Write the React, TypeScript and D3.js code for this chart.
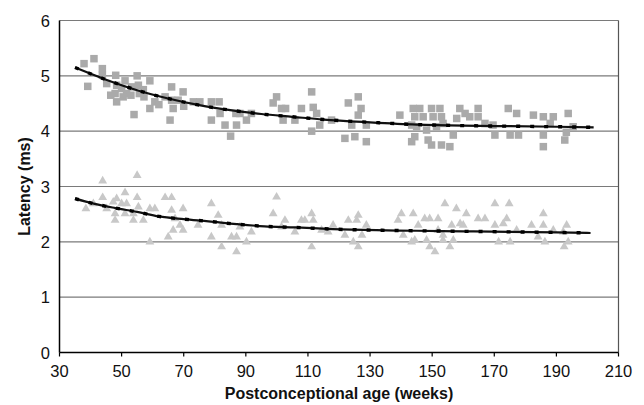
import { useEffect, useRef } from "react";
import * as d3 from "d3";

// upper series (squares)
const upperAge = [
  37.9, 41.1, 39.1, 43.8, 43.8, 45.2, 48.1, 48.4, 47.9, 48.4, 51.1, 50, 51.6, 53.2, 55, 55.4, 55.7, 54, 57.2, 59.1,
  59.1, 60.7, 64, 66.1, 66.1, 66.6, 65.6, 69.8, 68.2, 73.1, 75.2, 78.9, 81.4, 78.9, 81.7, 83.3, 85.1, 86.8, 87, 88.1,
  90.2, 91.8, 99.9, 98.8, 101.5, 102.8, 102, 105.8, 107.9, 111.2, 111.7, 112.8, 113.8, 111.2, 117.6, 123, 124.1, 126.2,
  127.1, 126.2, 121.9, 125.1, 128.8, 128.8, 139.6, 143.4, 143.4, 143.9, 146, 149.8, 152.5, 144.4, 147.1, 150.3, 153,
  145, 148.2, 151.4, 153.5, 144.4, 148.7, 149.8, 153, 155.7, 156.8, 158.9, 160.6, 157.9, 162.1, 164.8, 164.8, 167,
  169.6, 170.2, 174.5, 177.2, 175.1, 177.8, 182.6, 185.8, 185.8, 185.8, 188, 189, 192.7, 193.8, 195.4, 193.2,
  46.5, 50.5, 53, 57, 62, 70,
];
const upperLatency = [
  5.22, 5.31, 4.81, 5.13, 5.01, 4.86, 5.01, 4.83, 4.68, 4.53, 4.91, 4.77, 4.68, 4.8, 5.0, 4.83, 4.68, 4.3, 4.62, 4.91,
  4.41, 4.53, 4.62, 4.8, 4.56, 4.41, 4.2, 4.71, 4.56, 4.53, 4.53, 4.53, 4.53, 4.2, 4.32, 4.11, 3.91, 4.32, 4.11, 4.32,
  4.2, 4.32, 4.62, 4.51, 4.41, 4.41, 4.2, 4.2, 4.41, 4.71, 4.43, 4.32, 4.11, 4.0, 4.2, 4.51, 4.11, 4.62,
  4.41, 4.29, 3.87, 3.9, 3.81, 4.11, 4.29, 4.11, 3.81, 4.41, 4.41, 4.41, 4.41, 4.26, 4.26, 4.26, 4.26,
  4.08, 4.02, 4.08, 4.14, 3.9, 3.84, 3.75, 3.75, 3.72, 3.93, 4.41, 4.32, 4.23, 4.26, 4.41, 4.26, 4.14,
  4.11, 3.93, 4.41, 4.32, 3.93, 3.93, 4.29, 4.26, 3.93, 3.72, 4.14, 4.26, 3.84, 4.32, 4.08, 3.98,
  4.65, 4.62, 4.65, 4.75, 4.48, 4.45,
];

// lower series (triangles)
const lowerAge = [
  43.9, 55, 43.9, 51.1, 38.5, 40.9, 45.2, 47.3, 48.4, 50, 51.6, 47.9, 47.9, 51.1, 53.8, 53.8, 55, 55.4, 57, 59.1,
  60.7, 59.1, 64, 66.1, 66.1, 67.2, 69.8, 68.8, 65, 66.6, 69.8, 74.6, 78.9, 81.1, 82.2, 78.9, 82.2, 87, 85.4, 87,
  99.9, 98.8, 102.6, 107.9, 111.2, 109, 111.7, 105.8, 101.5, 91.8, 88.1, 90.2, 111.2, 114.4, 118.1, 116.5, 123, 126.2,
  125.7, 128.8, 121.9, 124.6, 127.4, 126.2, 139, 140.1, 140.7, 143.4, 154.1, 157.8, 170.2, 174.8, 143.9, 147.6, 149.2,
  151.9, 161, 164.8, 167, 174, 185.8, 145.5, 156.3, 159, 160, 170.2, 172.9, 182, 185.8, 193.3, 151.9, 177.2, 189,
  192.2, 144.4, 148.2, 153.5, 156.8, 171.4, 175.1, 184.1, 186.3, 193.8, 149.2, 155.7, 150.9, 192.5, 153.5,
];
const lowerLatency = [
  3.1, 3.2, 2.8, 2.89, 2.6, 2.69, 2.6, 2.72, 2.78, 2.69, 2.69, 2.51, 2.39, 2.51, 2.51, 2.39, 2.8, 2.63, 2.39, 2.6,
  2.6, 2.0, 2.8, 2.8, 2.57, 2.42, 2.6, 2.3, 2.09, 2.21, 2.21, 2.3, 2.69, 2.48, 2.3, 2.09, 1.91, 1.82, 2.09, 2.09,
  2.81, 2.51, 2.39, 2.39, 2.51, 2.39, 2.39, 2.18, 2.27, 2.18, 2.27, 2.0, 1.91, 2.21, 2.3, 2.18, 2.39, 2.48,
  2.39, 2.3, 2.12, 2.0, 2.12, 1.91, 2.39, 2.51, 2.12, 2.0, 2.69, 2.6, 2.69, 2.69, 2.51, 2.42, 2.42,
  2.42, 2.51, 2.42, 2.42, 2.42, 2.51, 2.3, 2.3, 2.33, 2.3, 2.3, 2.33, 2.3, 2.3, 2.3, 2.21, 2.21, 2.21,
  2.18, 2.03, 2.03, 2.12, 2.03, 2.0, 2.0, 2.09, 2.0, 2.0, 1.91, 1.91, 1.82, 1.91, 2.03,
];

// trend lines
const upperTrendAge = [35, 45, 55, 65, 75, 85, 95, 105, 115, 130, 145, 160, 175, 190, 202];
const upperTrendLatency = [5.15, 4.93, 4.74, 4.59, 4.47, 4.38, 4.31, 4.26, 4.21, 4.16, 4.12, 4.1, 4.09, 4.08, 4.07];
const lowerTrendAge = [35, 41, 48, 55, 62, 70, 78, 87, 96, 106, 118, 132, 145, 160, 175, 190, 201];
const lowerTrendLatency = [2.78, 2.69, 2.61, 2.54, 2.46, 2.41, 2.37, 2.32, 2.28, 2.26, 2.23, 2.21, 2.2, 2.19, 2.18, 2.17, 2.16];

const xTicks = [30, 50, 70, 90, 110, 130, 150, 170, 190, 210];
const yTicks = [0, 1, 2, 3, 4, 5, 6];

const W = 644;
const H = 405;

export default function App() {
  const ref = useRef<SVGSVGElement>(null);

  useEffect(() => {
    const svg = d3.select(ref.current);
    svg.selectAll("*").remove();

    const x = d3.scaleLinear().domain([30, 210]).range([59.5, 618.5]);
    const y = d3.scaleLinear().domain([0, 6]).range([352.5, 20.5]);
    const font = "Liberation Sans, Arial, sans-serif";

    // gridlines
    svg
      .append("g")
      .selectAll("line")
      .data(yTicks.slice(1))
      .join("line")
      .attr("x1", x(30))
      .attr("x2", x(210))
      .attr("y1", (d) => y(d))
      .attr("y2", (d) => y(d))
      .attr("stroke", "#7a7a7a")
      .attr("stroke-width", 1.2);

    // right border
    svg
      .append("line")
      .attr("x1", x(210))
      .attr("x2", x(210))
      .attr("y1", y(6))
      .attr("y2", y(0))
      .attr("stroke", "#555")
      .attr("stroke-width", 1.2);

    // squares
    const sq = 7.5;
    svg
      .append("g")
      .selectAll("rect")
      .data(upperAge.map((a, i) => [a, upperLatency[i]]))
      .join("rect")
      .attr("x", (d) => x(d[0]) - sq / 2)
      .attr("y", (d) => y(d[1]) - sq / 2)
      .attr("width", sq)
      .attr("height", sq)
      .attr("fill", "#aaaaaa");

    // triangles
    const tri = d3.symbol().type(d3.symbolTriangle).size(34);
    svg
      .append("g")
      .selectAll("path")
      .data(lowerAge.map((a, i) => [a, lowerLatency[i]]))
      .join("path")
      .attr("transform", (d) => `translate(${x(d[0])},${y(d[1])})`)
      .attr("d", tri)
      .attr("fill", "#c8c8c8");

    // trend lines
    const line = d3
      .line<number[]>()
      .x((d) => x(d[0]))
      .y((d) => y(d[1]))
      .curve(d3.curveMonotoneX);

    const trends = [
      upperTrendAge.map((a, i) => [a, upperTrendLatency[i]]),
      lowerTrendAge.map((a, i) => [a, lowerTrendLatency[i]]),
    ];
    trends.forEach((t) => {
      svg
        .append("path")
        .attr("d", line(t))
        .attr("fill", "none")
        .attr("stroke", "#111")
        .attr("stroke-width", 2.2);
      svg
        .append("path")
        .attr("d", line(t))
        .attr("fill", "none")
        .attr("stroke", "#000")
        .attr("stroke-width", 3.4)
        .attr("stroke-dasharray", "4,10");
    });

    // axes
    svg
      .append("line")
      .attr("x1", x(30))
      .attr("x2", x(30))
      .attr("y1", y(6))
      .attr("y2", y(0))
      .attr("stroke", "#000")
      .attr("stroke-width", 1.5);
    svg
      .append("line")
      .attr("x1", x(30))
      .attr("x2", x(210))
      .attr("y1", y(0))
      .attr("y2", y(0))
      .attr("stroke", "#000")
      .attr("stroke-width", 1.5);

    svg
      .append("g")
      .selectAll("line")
      .data(xTicks)
      .join("line")
      .attr("x1", (d) => x(d))
      .attr("x2", (d) => x(d))
      .attr("y1", y(0))
      .attr("y2", y(0) + 4)
      .attr("stroke", "#000")
      .attr("stroke-width", 1.2);

    svg
      .append("g")
      .selectAll("text")
      .data(xTicks)
      .join("text")
      .attr("x", (d) => x(d))
      .attr("y", 377)
      .attr("text-anchor", "middle")
      .attr("font-family", font)
      .attr("font-size", 16.5)
      .attr("fill", "#111")
      .text((d) => d);

    svg
      .append("g")
      .selectAll("text")
      .data(yTicks)
      .join("text")
      .attr("x", 50)
      .attr("y", (d) => y(d) + 6)
      .attr("text-anchor", "end")
      .attr("font-family", font)
      .attr("font-size", 16.5)
      .attr("fill", "#111")
      .text((d) => d);

    svg
      .append("text")
      .attr("x", x(120))
      .attr("y", 399)
      .attr("text-anchor", "middle")
      .attr("font-family", font)
      .attr("font-size", 16)
      .attr("font-weight", "bold")
      .attr("fill", "#111")
      .text("Postconceptional age (weeks)");

    svg
      .append("text")
      .attr("transform", `translate(30,${y(3)}) rotate(-90)`)
      .attr("text-anchor", "middle")
      .attr("font-family", font)
      .attr("font-size", 16)
      .attr("font-weight", "bold")
      .attr("fill", "#111")
      .text("Latency (ms)");
  }, []);

  return (
    <svg
      ref={ref}
      width={W}
      height={H}
      style={{ position: "absolute", left: 0, top: 0, background: "#fff" }}
    />
  );
}
